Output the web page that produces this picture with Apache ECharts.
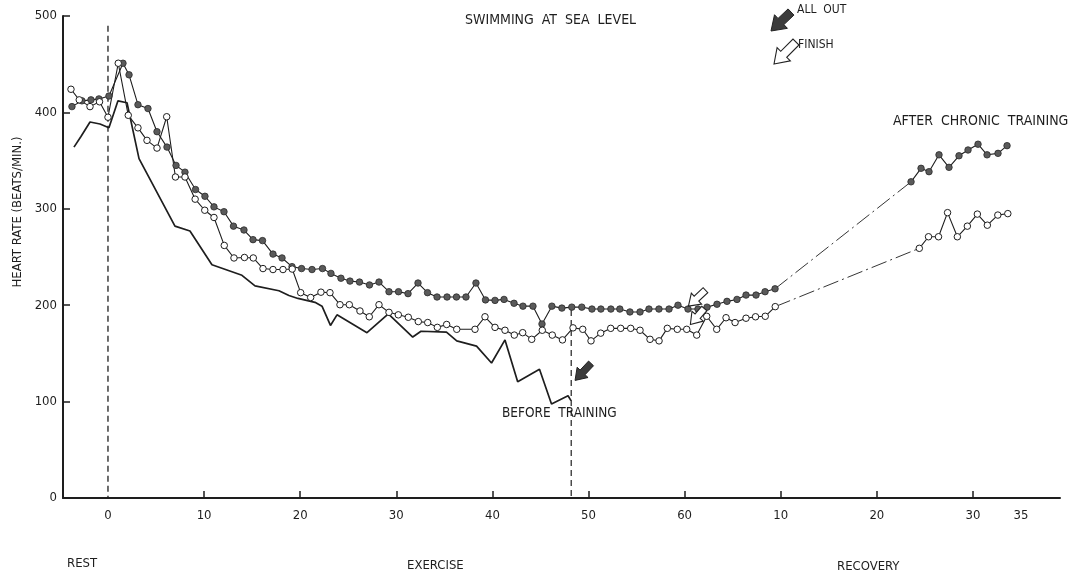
<!DOCTYPE html>
<html>
<head>
<meta charset="utf-8">
<script src="https://cdn.jsdelivr.net/npm/echarts@6/dist/echarts.min.js"></script>
<style>html,body{margin:0;padding:0;background:#fff}#c{width:1078px;height:581px}</style>
</head>
<body>
<div id="c"></div>
<script>
// ---- data ----
const beforeX = [-3.54,-2.81,-1.87,-0.83,0.10,1.04,1.98,3.23,6.97,8.53,10.82,13.94,15.30,17.79,18.83,19.77,21.54,22.27,23.15,23.83,26.95,29.17,31.71,32.57,35.22,36.29,38.35,39.91,41.31,42.63,44.90,46.15,47.87,48.18];
const beforeY = [364,375,390,388,384,412,410,352,282,277,242,231,220,215,210,207,203,199,179,190,171.5,191,167,173,172,163,157.5,140,164,120.6,133.5,97.5,106,101];

const allOutX = [-3.75,-2.71,-1.77,-0.94,0.10,1.56,2.19,3.12,4.16,5.10,6.14,7.08,8.01,9.11,10.09,11.03,12.07,13.06,14.15,15.09,16.08,17.17,18.11,19.15,20.14,21.23,22.32,23.20,24.24,25.18,26.17,27.21,28.20,29.24,30.23,31.22,32.26,33.25,34.24,35.28,36.26,37.25,38.29,39.28,40.27,41.21,42.25,43.18,44.22,45.16,46.19,47.23,48.26,49.30,50.36,51.29,52.33,53.26,54.31,55.36,56.29,57.33,58.38,59.31,60.35,61.39,62.33,63.37,64.41,65.45,66.39,67.43,68.37,69.41];
const allOutY = [406,412,413,414,417,451,439,408,404,380,364,345,338,320,313,302,297,282,278,268,267,253,249,240,238,237,238,233,228,225,224,221,224,214,214,212,223,213,208.5,208.5,208.5,208.5,223,205.5,205,206,202,199,199,180.5,199,197,198,198,196,196,196,196,193,193,196,196,196,200,196,196,198,201,204,206,210.5,210.5,214,217];
const allOutRecX = [83.56,84.60,85.43,86.47,87.51,88.55,89.49,90.53,91.47,92.61,93.55];
const allOutRecY = [328,342,338.5,356,343,355,361,367,356,357.5,365.5];

const finishX = [-3.85,-2.99,-1.87,-0.88,0.0,1.07,2.11,3.12,4.06,5.10,6.11,7.02,8.01,9.07,10.07,11.03,12.10,13.11,14.20,15.12,16.13,17.17,18.21,19.17,20.05,21.09,22.16,23.10,24.14,25.11,26.22,27.19,28.20,29.24,30.21,31.25,32.29,33.27,34.27,35.24,36.29,38.19,39.23,40.27,41.31,42.28,43.15,44.09,45.19,46.23,47.29,48.39,49.40,50.26,51.27,52.31,53.35,54.39,55.36,56.40,57.34,58.20,59.24,60.22,61.26,62.30,63.34,64.31,65.25,66.39,67.38,68.39,69.43];
const finishY = [424,413,406,411,395,451,397,384,371,363,395.5,333,333,310,298.5,291,262,249,249.5,249,238,237,237,237.5,213,208,213.5,213,200.5,200.5,194,188,200.5,192.6,190,187.5,183,182,177,180,175,175,188,177,174,169,171.5,164.6,174,169,164,176.5,175,163,171,176,176,176,174,164.6,163,176,175,175,169,188.5,175,187,182,186.5,188,188.5,198.5];
const finishRecX = [84.42,85.38,86.42,87.36,88.38,89.42,90.46,91.50,92.59,93.63];
const finishRecY = [259,271,271,296,271,282,294.5,283,293.5,295];

// x-axis: exercise minutes 0..60, recovery minutes shown after 60
const exerciseTicks = [0,10,20,30,40,50,60];
const recoveryTicks = [10,20,30,35];
const yTicks = [0,100,200,300,400,500];

// markers of events: [x, y]
const startLine = [0, 490];
const beforeEnd = [48.2, 195];
const allOutArrowBefore = [48.6, 122];
const finishArrowAllOut = [60.4, 199];
const finishArrowFinish = [60.6, 180];

const zip = (xs, ys) => xs.map((x, i) => [x, ys[i]]);
const FONT = "'DejaVu Sans Condensed','Liberation Sans Narrow',sans-serif";
const INK = '#1e1e1e';
const labelValues = exerciseTicks.concat(recoveryTicks.map(v => v + 60));

const chart = echarts.init(document.getElementById('c'), null, {renderer: 'canvas'});
const option = {
  animation: false,
  backgroundColor: '#fff',
  grid: {left: 63, right: 18, top: 16, bottom: 83},
  xAxis: {
    type: 'value', min: -4.68, max: 99.06,
    axisLine: {onZero: false, lineStyle: {color: INK, width: 2}},
    axisTick: {inside: true, length: 7, lineStyle: {color: INK, width: 1.5},
      customValues: labelValues.filter(v => v !== 0 && v !== 95)},
    axisLabel: {customValues: labelValues, color: INK, fontFamily: FONT, fontSize: 13, margin: 11,
      formatter: v => String(v > 60 ? Math.round(v - 60) : Math.round(v))},
    splitLine: {show: false}
  },
  yAxis: {
    type: 'value', min: 0, max: 500, interval: 100,
    axisLine: {show: true, onZero: false, lineStyle: {color: INK, width: 2}},
    axisTick: {show: true, inside: true, length: 7, lineStyle: {color: INK, width: 1.5}},
    axisLabel: {color: INK, fontFamily: FONT, fontSize: 13, margin: 6},
    splitLine: {show: false}
  },
  series: [
    {type: 'line', data: [startLine, [startLine[0], 0]], symbol: 'none', silent: true,
     lineStyle: {color: INK, width: 1.3, type: [6, 4]}},
    {type: 'line', data: [beforeEnd, [beforeEnd[0], 0]], symbol: 'none', silent: true,
     lineStyle: {color: INK, width: 1.2, type: [6, 4]}},
    {name: 'BEFORE TRAINING', type: 'line', data: zip(beforeX, beforeY), symbol: 'none',
     lineStyle: {color: INK, width: 1.7}},
    {name: 'ALL OUT', type: 'line', data: zip(allOutX, allOutY), symbol: 'circle', symbolSize: 6.5,
     itemStyle: {color: '#5a5a5a', borderColor: '#2a2a2a', borderWidth: 0.8},
     lineStyle: {color: INK, width: 1.1}},
    {type: 'line', data: [[allOutX[allOutX.length-1], allOutY[allOutY.length-1]], [allOutRecX[0], allOutRecY[0]]],
     symbol: 'none', lineStyle: {color: INK, width: 0.9, type: [16, 4, 2, 4]}},
    {type: 'line', data: zip(allOutRecX, allOutRecY), symbol: 'circle', symbolSize: 6.5,
     itemStyle: {color: '#5a5a5a', borderColor: '#2a2a2a', borderWidth: 0.8},
     lineStyle: {color: INK, width: 1.1}},
    {name: 'FINISH', type: 'line', data: zip(finishX, finishY), symbol: 'circle', symbolSize: 6.5,
     itemStyle: {color: '#fff', borderColor: INK, borderWidth: 1},
     lineStyle: {color: INK, width: 1.1}},
    {type: 'line', data: [[finishX[finishX.length-1], finishY[finishY.length-1]], [finishRecX[0], finishRecY[0]]],
     symbol: 'none', lineStyle: {color: INK, width: 0.9, type: [16, 4, 2, 4]}},
    {type: 'line', data: zip(finishRecX, finishRecY), symbol: 'circle', symbolSize: 6.5,
     itemStyle: {color: '#fff', borderColor: INK, borderWidth: 1},
     lineStyle: {color: INK, width: 1.1}}
  ]
};
chart.setOption(option);

function arrowPts(tip, tail, headLen, headHalf, shaftHalf) {
  const dx = tail[0] - tip[0], dy = tail[1] - tip[1];
  const L = Math.hypot(dx, dy), ux = dx / L, uy = dy / L, px = -uy, py = ux;
  const P = (u, v) => [tip[0] + u * ux + v * px, tip[1] + u * uy + v * py];
  return [P(0,0), P(headLen,headHalf), P(headLen,shaftHalf), P(L,shaftHalf), P(L,-shaftHalf), P(headLen,-shaftHalf), P(headLen,-headHalf)];
}
function arrow(tip, tail, filled, big) {
  const s = big ? 1.25 : 1;
  return {type: 'polygon', z: 50, shape: {points: arrowPts(tip, tail, 11 * s, 7.5 * s, 3.4 * s)},
    style: filled ? {fill: '#3c3c3c', stroke: '#222', lineWidth: 1} : {fill: '#fff', stroke: '#222', lineWidth: 1.1}};
}
function dataArrow(coord, off, filled) {
  const tip = chart.convertToPixel({gridIndex: 0}, coord);
  return arrow(tip, [tip[0] + off[0], tip[1] + off[1]], filled, false);
}
function txt(s, x, y, size, extra) {
  return Object.assign({type: 'text', z: 60, x: x, y: y,
    style: {text: s, fill: INK, font: size + 'px ' + FONT, textAlign: 'left', textVerticalAlign: 'middle'}}, extra || {});
}

chart.setOption({
  graphic: [
    txt('SWIMMING  AT  SEA  LEVEL', 465, 20, 14),
    txt('ALL  OUT', 797, 10, 12),
    txt('FINISH', 798, 45, 12),
    txt('AFTER  CHRONIC  TRAINING', 893, 121, 14),
    txt('BEFORE  TRAINING', 502, 413, 13.5),
    txt('REST', 67, 564, 13),
    txt('EXERCISE', 407, 566, 13),
    txt('RECOVERY', 837, 567, 13),
    {type: 'text', z: 60, x: 18, y: 212, rotation: Math.PI / 2,
     style: {text: 'HEART RATE (BEATS/MIN.)', fill: INK, font: '13px ' + FONT, textAlign: 'center', textVerticalAlign: 'middle'}},
    arrow([771, 31], [791, 12], true, true),
    arrow([774, 64], [796, 42], false, true),
    dataArrow(allOutArrowBefore, [16, -17], true),
    dataArrow(finishArrowAllOut, [17, -16], false),
    dataArrow(finishArrowFinish, [14, -16], false)
  ]
});
</script>
</body>
</html>
